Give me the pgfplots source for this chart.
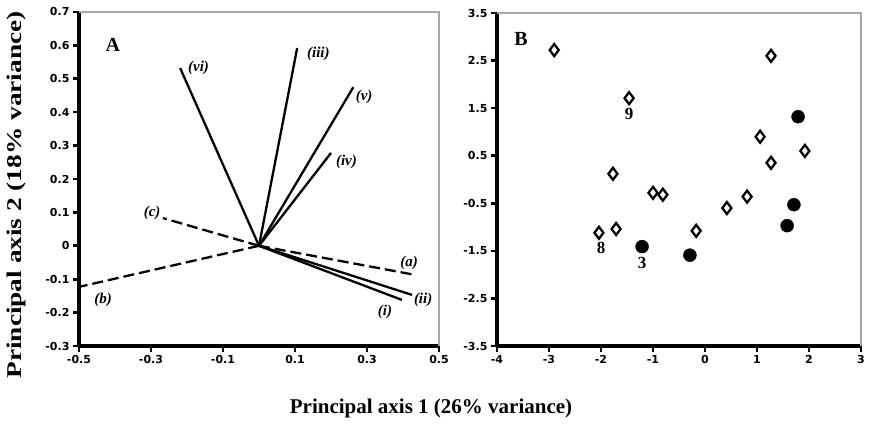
\documentclass[border=0pt]{standalone}
\usepackage{fontspec}
\setmainfont{Liberation Serif}
\newfontfamily\tickfont{DejaVu Sans}
\usepackage{graphicx}
\usepackage{pgfplots}
\pgfplotsset{compat=1.18}
\definecolor{framegray}{RGB}{168,168,168}

\pgfplotsset{
  pca/.style={
    scale only axis, anchor=south west,
    axis x line*=bottom, axis y line*=left,
    axis line style={line width=3.6pt, black},
    every outer x axis line/.append style={line width=3.6pt},
    every outer y axis line/.append style={line width=3.6pt},
    tick align=outside, major tick length=6pt,
    tick style={line width=2.6pt, black},
    tick label style={font=\tickfont\bfseries\fontsize{11}{11}\selectfont},
    /pgf/number format/assume math mode=true,
    clip=false,
  },
  vec/.style={black, line width=2.3pt, no marks},
  dvec/.style={black, line width=2.3pt, no marks, dash pattern=on 11pt off 5pt},
}
\tikzset{
  lab/.style={font=\bfseries\itshape\fontsize{15}{15}\selectfont},
  num/.style={font=\bfseries\fontsize{17}{17}\selectfont},
}

\begin{document}
\begin{tikzpicture}[x=1pt,y=1pt]
\path[use as bounding box] (0,0) rectangle (869,423);

% panel A: loadings
\begin{axis}[pca,
  at={(79pt,77pt)}, width=360pt, height=334pt,
  xmin=-0.5, xmax=0.5, ymin=-0.3, ymax=0.7,
  xtick={-0.5,-0.3,-0.1,0.1,0.3,0.5},
  xticklabels={-0.5,-0.3,-0.1,0.1,0.3,0.5},
  ytick={-0.3,-0.2,-0.1,0,0.1,0.2,0.3,0.4,0.5,0.6,0.7},
  yticklabels={-0.3,-0.2,-0.1,0,0.1,0.2,0.3,0.4,0.5,0.6,0.7},
]
\draw[framegray, line width=2.4pt] (rel axis cs:0,1) -- (rel axis cs:1,1) -- (rel axis cs:1,0);
\addplot[vec] coordinates {(0,0) (-0.219,0.532)};
\addplot[vec] coordinates {(0,0) (0.106,0.592)};
\addplot[vec] coordinates {(0,0) (0.262,0.475)};
\addplot[vec] coordinates {(0,0) (0.200,0.278)};
\addplot[vec] coordinates {(0,0) (0.425,-0.147)};
\addplot[vec] coordinates {(0,0) (0.397,-0.162)};
\addplot[dvec] coordinates {(0,0) (-0.267,0.083)};
\addplot[dvec] coordinates {(0,0) (-0.500,-0.123)};
\addplot[dvec] coordinates {(0,0) (0.433,-0.087)};
\node[lab] at (axis cs:-0.168,0.532) {(vi)};
\node[lab] at (axis cs:0.165,0.574) {(iii)};
\node[lab] at (axis cs:0.292,0.446) {(v)};
\node[lab] at (axis cs:0.243,0.251) {(iv)};
\node[lab] at (axis cs:-0.297,0.098) {(c)};
\node[lab] at (axis cs:-0.433,-0.162) {(b)};
\node[lab] at (axis cs:0.417,-0.052) {(a)};
\node[lab] at (axis cs:0.456,-0.162) {(ii)};
\node[lab] at (axis cs:0.350,-0.198) {(i)};
\node[font=\bfseries\fontsize{20}{20}\selectfont] at (axis cs:-0.406,0.601) {A};
\end{axis}

% panel B: scores
\begin{axis}[pca,
  at={(497pt,77pt)}, width=364pt, height=333pt,
  xmin=-4, xmax=3, ymin=-3.5, ymax=3.5,
  xtick={-4,-3,-2,-1,0,1,2,3},
  ytick={-3.5,-2.5,-1.5,-0.5,0.5,1.5,2.5,3.5},
  yticklabels={-3.5,-2.5,-1.5,-0.5,0.5,1.5,2.5,3.5},
]
\draw[framegray, line width=2.4pt] (rel axis cs:0,1) -- (rel axis cs:1,1) -- (rel axis cs:1,0);
\addplot[only marks, mark=diamond*, mark size=6pt,
  mark options={fill=white, draw=black, line width=2.3pt}] coordinates {
  (-2.90,2.72) (1.27,2.60) (-1.46,1.71) (1.06,0.90) (1.92,0.60)
  (1.27,0.35) (-1.77,0.12) (-1.00,-0.28) (-0.81,-0.32) (0.81,-0.36)
  (0.42,-0.60) (-0.17,-1.08) (-2.04,-1.12) (-1.71,-1.04)
};
\addplot[only marks, mark=*, mark size=6.5pt, mark options={fill=black, draw=black}] coordinates {
  (1.79,1.32) (1.71,-0.53) (1.58,-0.97) (-1.21,-1.41) (-0.29,-1.59)
};
\node[num] at (axis cs:-1.46,1.38) {9};
\node[num] at (axis cs:-2.00,-1.44) {8};
\node[num] at (axis cs:-1.21,-1.75) {3};
\node[font=\bfseries\fontsize{20}{20}\selectfont] at (axis cs:-3.54,2.95) {B};
\end{axis}

\node[font=\bfseries\fontsize{21}{21}\selectfont] at (431,15) {Principal axis 1 (26\% variance)};
\node[rotate=90, font=\bfseries\fontsize{21}{21}\selectfont] at (16,228)
  {\scalebox{1.3}[1]{Principal axis 2 (18\% variance)}};
\end{tikzpicture}
\end{document}
